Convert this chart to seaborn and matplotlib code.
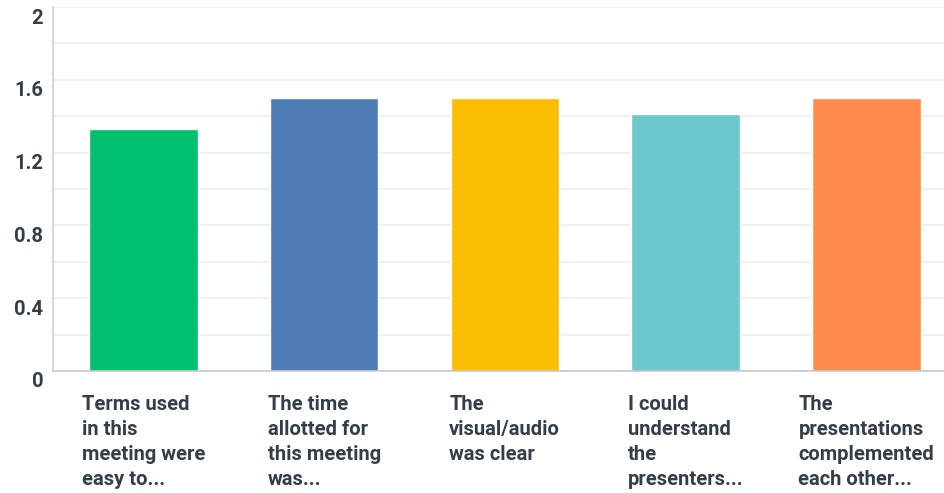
import numpy as np
import pandas as pd
import seaborn as sns
import matplotlib.pyplot as plt
from matplotlib.transforms import ScaledTranslation
from matplotlib.ticker import MultipleLocator

# survey questions and their average scores
questions = [
    "Terms used\nin this\nmeeting were\neasy to...",
    "The time\nallotted for\nthis meeting\nwas...",
    "The\nvisual/audio\nwas clear",
    "I could\nunderstand\nthe\npresenters...",
    "The\npresentations\ncomplemented\neach other...",
]
scores = [1.33, 1.50, 1.50, 1.41, 1.50]
bar_colors = ["#00bf6f", "#507cb6", "#f9be00", "#6bc8cd", "#ff8b4f"]
y_ticks = [0, 0.4, 0.8, 1.2, 1.6, 2]

TEXT = "#333e48"

sns.set_style("white")
plt.rcParams["font.family"] = ["Roboto", "DejaVu Sans"]

df = pd.DataFrame({"question": questions, "score": scores})

fig = plt.figure(figsize=(9.44, 4.93), dpi=100)
ax = fig.add_axes([0.0561, 0.2475, 0.9439, 0.7383])

sns.barplot(data=df, x="question", y="score", hue="question",
            palette=bar_colors, width=0.6, legend=False, ax=ax,
            saturation=1)

ax.set_xlim(-0.5, 4.43)
ax.set_ylim(0, 2)
ax.set_yticks(y_ticks)
ax.set_yticklabels(["0", "0.4", "0.8", "1.2", "1.6", "2"])
ax.yaxis.set_minor_locator(MultipleLocator(0.2))
ax.grid(axis="y", which="both", color="#ededed", lw=1.2, zorder=0)
ax.set_axisbelow(True)

ax.set_xlabel("")
ax.set_ylabel("")
for s in ["top", "right"]:
    ax.spines[s].set_visible(False)
ax.spines["left"].set_color("#d0d0d0")
ax.spines["bottom"].set_color("#c8c8c8")
ax.spines["left"].set_linewidth(1.2)
ax.spines["bottom"].set_linewidth(1.2)

ax.tick_params(axis="y", which="both", length=0, pad=7, labelsize=14.5,
               labelcolor=TEXT)
ax.tick_params(axis="x", length=0, pad=17, labelsize=14.5, labelcolor=TEXT)

offset = ScaledTranslation(0, -9 / 100, fig.dpi_scale_trans)
for lbl in ax.get_yticklabels():
    lbl.set_fontweight("bold")
    lbl.set_transform(lbl.get_transform() + offset)

for lbl in ax.get_xticklabels():
    lbl.set_fontweight("bold")
    lbl.set_multialignment("left")
    lbl.set_linespacing(1.4)
    lbl.set_verticalalignment("top")

fig.savefig("out.png", dpi=100)
